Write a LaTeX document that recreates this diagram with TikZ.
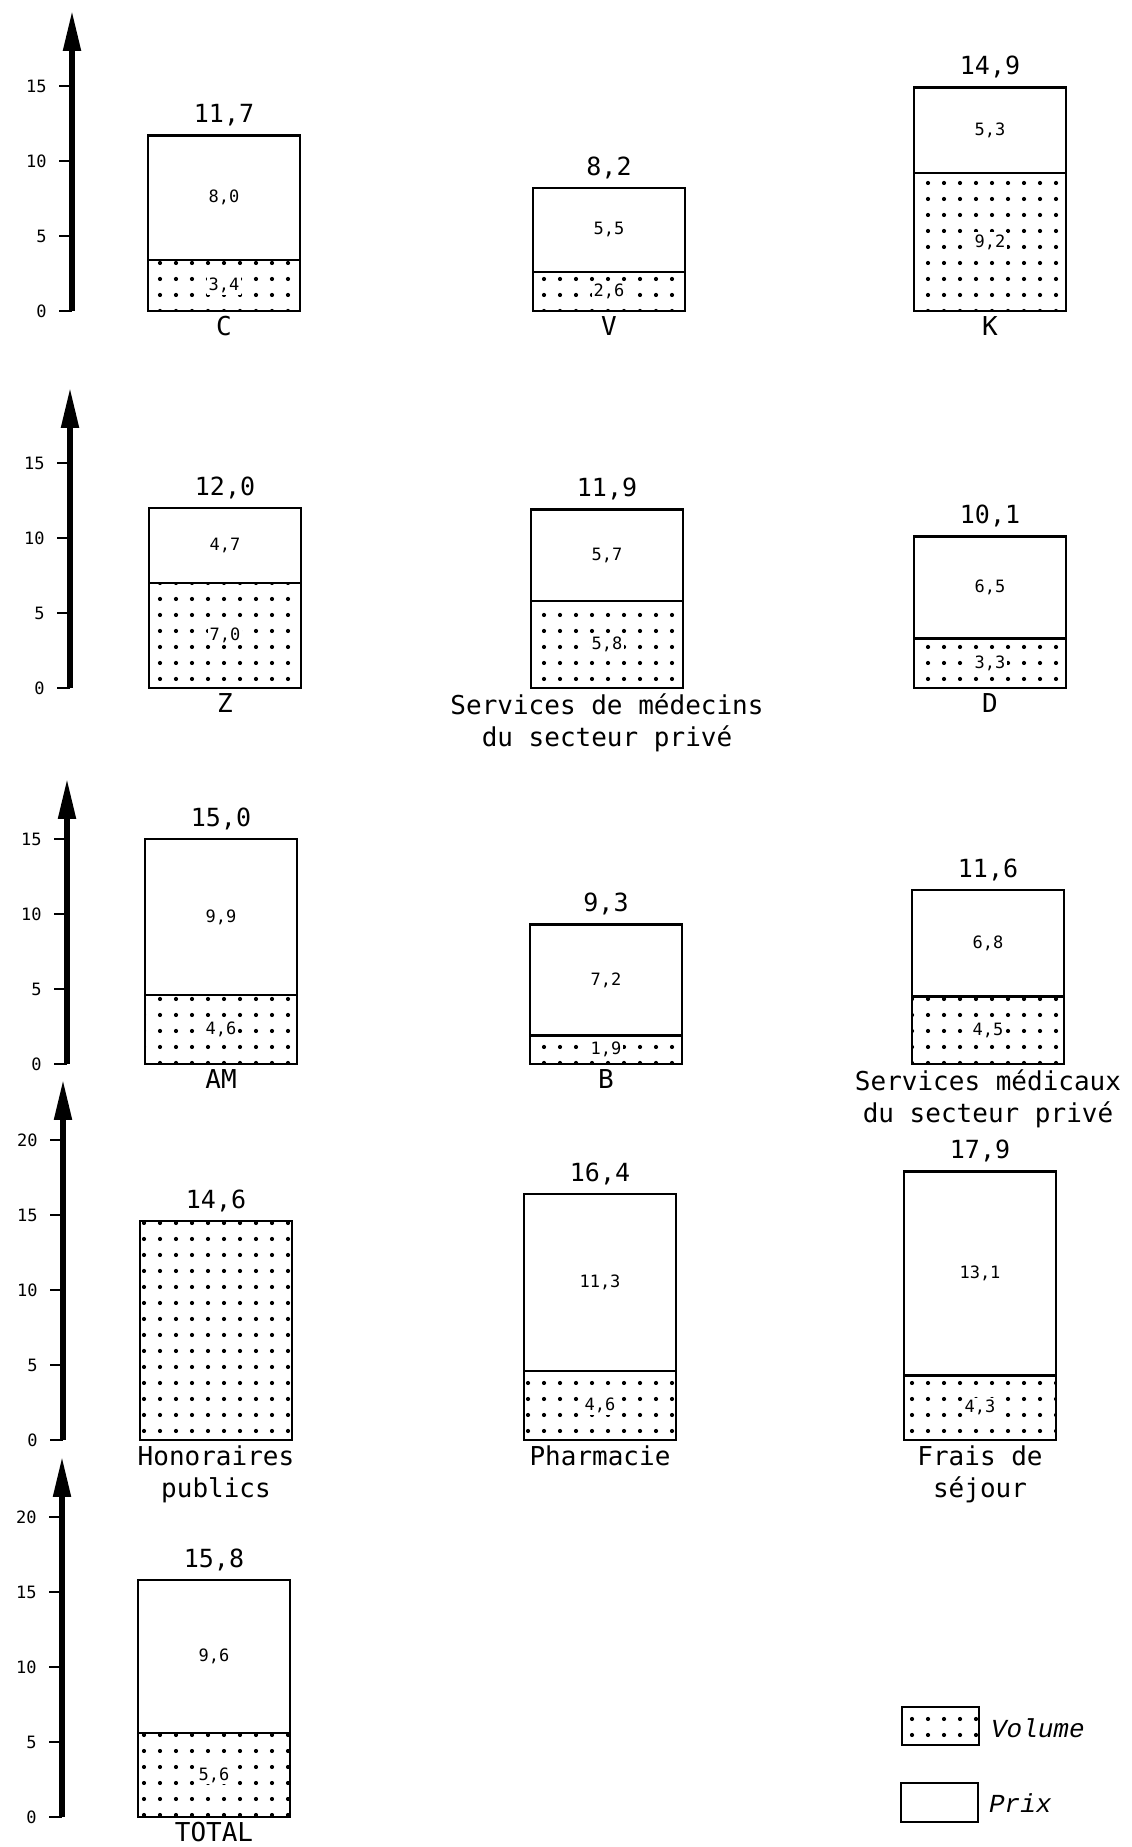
\documentclass[tikz,border=0pt]{standalone}
\usepackage{fontspec}
\setmonofont{DejaVu Sans Mono}
\newfontfamily\legendfont{Liberation Mono}
\usetikzlibrary{arrows.meta, patterns}

\pgfdeclarepatternformonly{bigdots}{\pgfqpoint{-2pt}{-2pt}}{\pgfqpoint{2pt}{2pt}}{\pgfqpoint{8pt}{8pt}}{%
  \pgfpathcircle{\pgfqpoint{0pt}{0pt}}{1.05pt}\pgfusepath{fill}}

\tikzset{
  yaxis/.style={line width=2.6pt, -{Triangle[length=20pt, width=8.5pt]}},
  ytick/.style={line width=0.8pt},
  ticklabel/.style={left, inner xsep=6pt, font=\ttfamily\fontsize{8.5}{8.5}\selectfont},
  box/.style={line width=1.2pt},
  volume/.style={pattern=bigdots},
  val/.style={font=\ttfamily\fontsize{8.5}{9}\selectfont, fill=white, inner sep=1pt},
  total/.style={above=1pt, font=\ttfamily\fontsize{12.5}{13}\selectfont},
  poste/.style={below=1.5pt, inner ysep=1pt, align=center, font=\ttfamily\fontsize{13}{16}\selectfont},
  legend/.style={right, font=\legendfont\itshape\fontsize{13}{13}\selectfont}
}

\begin{document}
\begin{tikzpicture}[x=0.5pt, y=0.5pt]
  \useasboundingbox (0,0) rectangle (1131,1847);

  % axes, one per row
  \foreach \row/\base/\ax/\ytop/\ymax in {1/1536/72/20/15, 2/1159/70/20/15, 3/783/67/19/15, 4/407/63/24/20, 5/30/62/24/20}
  {
    \begin{scope}[shift={(0,\base)}, y=7.5pt]
      \draw[yaxis] (\ax,0) -- (\ax,\ytop);
      \foreach \tk in {0,5,...,\ymax}
      {
        \draw[ytick] (\ax-13,\tk) -- (\ax,\tk);
        \node[ticklabel] (ax\row-\tk) at (\ax-13,\tk) {\tk};
      }
    \end{scope}
  }

  % bars: volume below, prix above
  \foreach \n/\base/\x/\vol/\tot/\vl/\pl/\tl/\lab in {
      C/1536/148/3.4/11.7/{3,4}/{8,0}/{11,7}/C,
      V/1536/533/2.6/8.2/{2,6}/{5,5}/{8,2}/V,
      K/1536/914/9.2/14.9/{9,2}/{5,3}/{14,9}/K,
      Z/1159/149/7.0/12.0/{7,0}/{4,7}/{12,0}/Z,
      Med/1159/531/5.8/11.9/{5,8}/{5,7}/{11,9}/{Services de médecins\\du secteur privé},
      D/1159/914/3.3/10.1/{3,3}/{6,5}/{10,1}/D,
      AM/783/145/4.6/15.0/{4,6}/{9,9}/{15,0}/AM,
      B/783/530/1.9/9.3/{1,9}/{7,2}/{9,3}/B,
      SMed/783/912/4.5/11.6/{4,5}/{6,8}/{11,6}/{Services médicaux\\du secteur privé},
      Pharm/407/524/4.6/16.4/{4,6}/{11,3}/{16,4}/Pharmacie,
      Frais/407/904/4.3/17.9/{4,3}/{13,1}/{17,9}/{Frais de\\séjour},
      Total/30/138/5.6/15.8/{5,6}/{9,6}/{15,8}/TOTAL}
  {
    \begin{scope}[shift={(0,\base)}, y=7.5pt]
      \fill[volume] (\x,0) rectangle ++(152,\vol);
      \draw[box] (\x,0) rectangle ++(152,\tot);
      \draw[box] (\x,\vol) -- ++(152,0);
      \node[val] (\n-v) at (\x+76,\vol/2) {\vl};
      \node[val] (\n-p) at (\x+76,{(\vol+\tot)/2}) {\pl};
      \node[total] (\n-t) at (\x+76,\tot) {\tl};
      \node[poste] (\n-l) at (\x+76,0) {\lab};
    \end{scope}
  }

  % honoraires publics: volume only
  \begin{scope}[shift={(0,407)}, y=7.5pt]
    \fill[volume] (140,0) rectangle ++(152,14.6);
    \draw[box] (140,0) rectangle ++(152,14.6);
    \node[total] (Hon-t) at (216,14.6) {14,6};
    \node[poste] (Hon-l) at (216,0) {Honoraires\\publics};
  \end{scope}

  % legend
  \fill[volume] (902,102) rectangle (979,140);
  \draw[box] (902,102) rectangle (979,140);
  \node[legend] (leg-vol) at (984,119) {Volume};
  \draw[box] (901,25) rectangle (978,64);
  \node[legend] (leg-prix) at (982,44) {Prix};
\end{tikzpicture}
\end{document}
